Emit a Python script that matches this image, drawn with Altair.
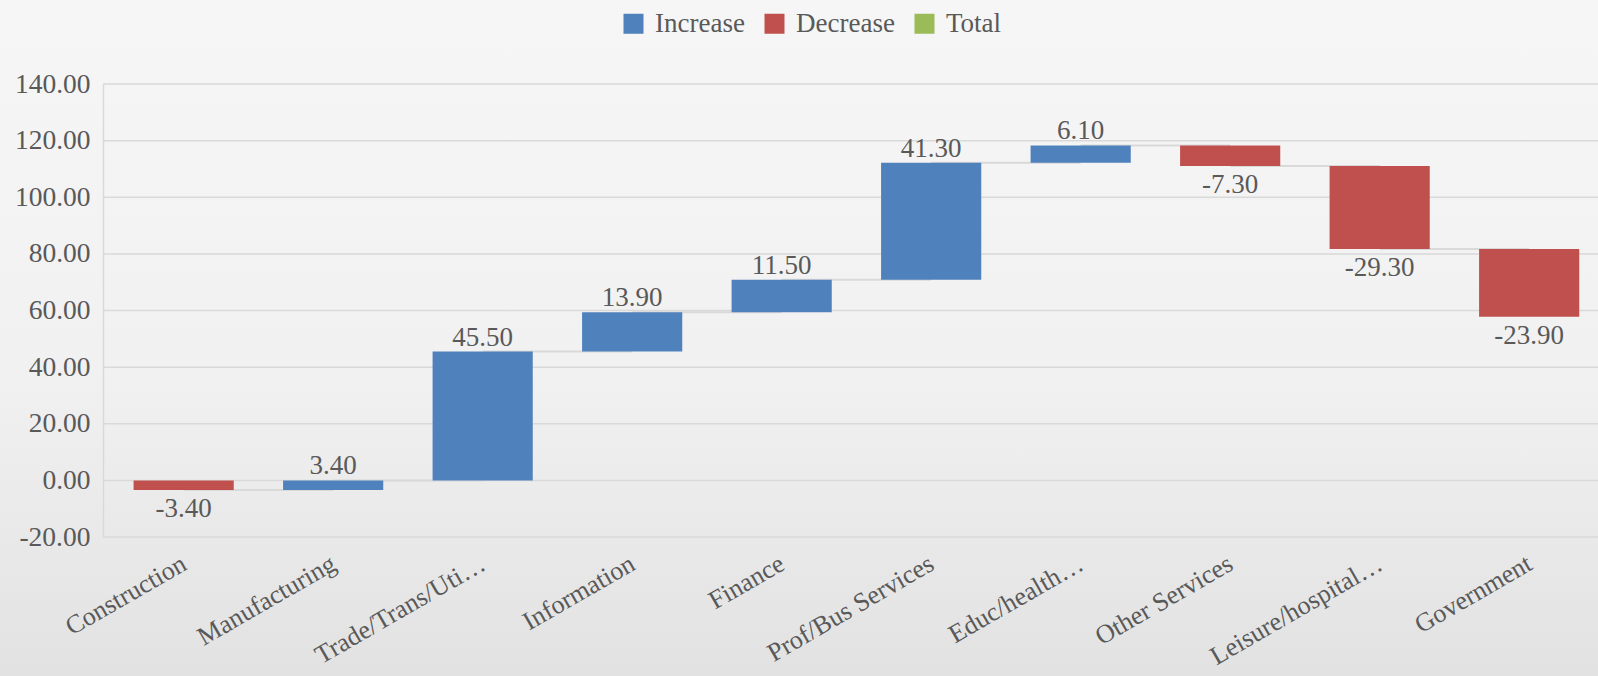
import altair as alt
import pandas as pd

categories = ["Construction", "Manufacturing", "Trade/Trans/Uti…", "Information", "Finance",
              "Prof/Bus Services", "Educ/health…", "Other Services", "Leisure/hospital…", "Government"]
changes = [-3.4, 3.4, 45.5, 13.9, 11.5, 41.3, 6.1, -7.3, -29.3, -23.9]
grid_values = [-20, 0, 20, 40, 60, 80, 100, 120, 140]
legend_domain = ["Increase", "Decrease", "Total"]
legend_colors = ["#4f81bd", "#c0504d", "#9bbb59"]

FONT = "Liberation Serif"
TXT = "#595959"
GRID = "#d9d9d9"

starts, ends = [], []
total = 0.0
for v in changes:
    starts.append(round(total, 2))
    total += v
    ends.append(round(total, 2))

df = pd.DataFrame({
    "cat": categories,
    "change": changes,
    "start": starts,
    "end": ends,
    "top": [max(s, e) for s, e in zip(starts, ends)],
    "bottom": [min(s, e) for s, e in zip(starts, ends)],
    "kind": ["Decrease" if v < 0 else "Increase" for v in changes],
    "next_cat": categories[1:] + [None],
    "label": [f"{v:.2f}" for v in changes],
})

x_scale = alt.Scale(type="band", domain=categories, paddingInner=0.33, paddingOuter=0.165, align=0.62)
y_scale = alt.Scale(domain=[-20, 140], nice=False, zero=False)

x_axis = alt.Axis(title=None, labelAngle=-30, labelAlign="right", labelBaseline="top",
                  labelFont=FONT, labelFontSize=26, labelColor=TXT, ticks=False, domain=False,
                  labelPadding=13, labelOffset=-6, labelLimit=400, labelOverlap=False,
                  zindex=1, grid=False)
y_axis = alt.Axis(title=None, values=grid_values, grid=False, ticks=False, domain=True,
                  domainColor=GRID, domainWidth=1.5, labelFont=FONT, labelFontSize=27.5,
                  labelColor=TXT, labelPadding=13, zindex=1,
                  labelExpr="replace(format(datum.value, '.2f'), '\u2212', '-')")

bg = alt.Chart(alt.Data(values=[{"a": 1}])).mark_rect(
    fill=alt.LinearGradient(gradient="linear", x1=0, x2=0, y1=0, y2=1,
                            stops=[alt.GradientStop(offset=0, color="#f6f6f6"),
                                   alt.GradientStop(offset=0.55, color="#f1f1f1"),
                                   alt.GradientStop(offset=1, color="#e2e2e2")])
).encode(x=alt.value(-103), x2=alt.value(1495), y=alt.value(-84), y2=alt.value(592))

grid = alt.Chart(pd.DataFrame({"v": grid_values})).mark_rule(color=GRID, strokeWidth=1.5).encode(
    y=alt.Y("v:Q", scale=y_scale, axis=y_axis)
)

base = alt.Chart(df)

connectors = base.transform_filter("datum.next_cat != null").mark_rule(color=GRID, strokeWidth=2).encode(
    x=alt.X("cat:N", scale=x_scale, axis=x_axis),
    x2="next_cat:N",
    y=alt.Y("end:Q", scale=y_scale, axis=y_axis),
)

bars = base.mark_bar().encode(
    x=alt.X("cat:N", scale=x_scale, axis=x_axis),
    y=alt.Y("start:Q", scale=y_scale, axis=y_axis),
    y2="end:Q",
    color=alt.Color("kind:N", scale=alt.Scale(domain=legend_domain, range=legend_colors),
                    legend=alt.Legend(title=None, orient="none", legendX=517, legendY=-74,
                                      direction="horizontal", symbolType="square", symbolSize=400,
                                      symbolStrokeWidth=0, symbolOpacity=1, labelFont=FONT,
                                      labelFontSize=27, labelColor=TXT, labelOffset=8,
                                      columnPadding=16, padding=0)),
)

inc_labels = base.transform_filter("datum.change >= 0").mark_text(
    baseline="alphabetic", dy=-6, font=FONT, fontSize=27, color=TXT
).encode(
    x=alt.X("cat:N", scale=x_scale, axis=x_axis),
    y=alt.Y("top:Q", scale=y_scale, axis=y_axis),
    text="label:N",
)

dec_labels = base.transform_filter("datum.change < 0").mark_text(
    baseline="alphabetic", dy=27, font=FONT, fontSize=27, color=TXT
).encode(
    x=alt.X("cat:N", scale=x_scale, axis=x_axis),
    y=alt.Y("bottom:Q", scale=y_scale, axis=y_axis),
    text="label:N",
)

chart = alt.layer(bg, grid, connectors, bars, inc_labels, dec_labels).properties(
    width=1495, height=453,
    autosize=alt.AutoSizeParams(type="none"),
    padding={"left": 103, "top": 84, "right": 0, "bottom": 139},
    background="#f3f3f3",
).configure_view(stroke=None)

chart.save("out.html", embed_options={"renderer": "svg", "actions": False})
